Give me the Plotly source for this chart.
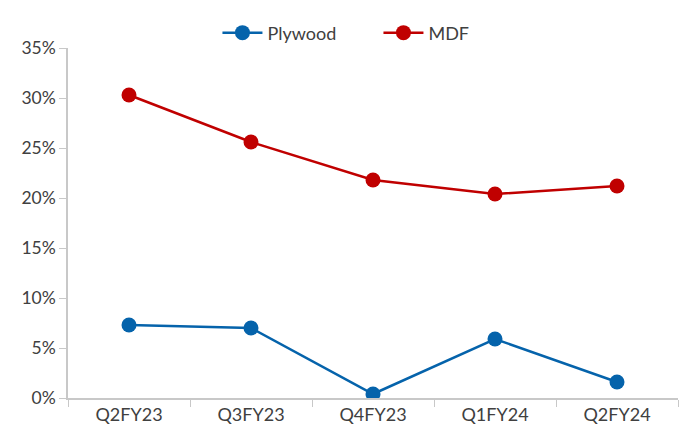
import plotly.graph_objects as go

quarters = ["Q2FY23", "Q3FY23", "Q4FY23", "Q1FY24", "Q2FY24"]
plywood = [7.3, 7.0, 0.4, 5.9, 1.6]
mdf = [30.3, 25.6, 21.8, 20.4, 21.2]

y_ticks = [0, 5, 10, 15, 20, 25, 30, 35]
y_labels = [f"{v}%" for v in y_ticks]

axis_grey = "#c8c8c8"
text_grey = "#404040"

fig = go.Figure()
fig.add_trace(go.Scatter(
    x=quarters, y=plywood, name="Plywood", mode="lines+markers",
    line=dict(color="#0563AB", width=2.5),
    marker=dict(size=15, color="#0563AB"),
))
fig.add_trace(go.Scatter(
    x=quarters, y=mdf, name="MDF", mode="lines+markers",
    line=dict(color="#C00000", width=2.5),
    marker=dict(size=15, color="#C00000"),
))

fig.update_layout(
    width=692, height=432,
    margin=dict(l=68, r=14, t=48, b=34),
    paper_bgcolor="white", plot_bgcolor="white",
    font=dict(family="Lato", size=18, color=text_grey),
    showlegend=True,
    legend=dict(orientation="h", x=0.245, xanchor="left", y=1.043, yanchor="middle",
                font=dict(size=18), entrywidth=106, traceorder="normal",
                itemwidth=40),
    xaxis=dict(
        type="category", range=[-0.5, 4.5], tickson="boundaries", ticks="outside",
        ticklen=7, tickcolor=axis_grey, showline=True, linecolor=axis_grey,
        linewidth=1.5, showgrid=False, zeroline=False, automargin=False,
        tickfont=dict(size=18),
    ),
    yaxis=dict(
        range=[0, 35], tickvals=y_ticks, ticktext=y_labels, ticks="outside",
        ticklen=7, tickcolor=axis_grey, showline=True, linecolor=axis_grey,
        linewidth=1.5, showgrid=False, zeroline=False, automargin=False,
        tickfont=dict(size=17.5),
    ),
)

fig.write_html("out.html")
